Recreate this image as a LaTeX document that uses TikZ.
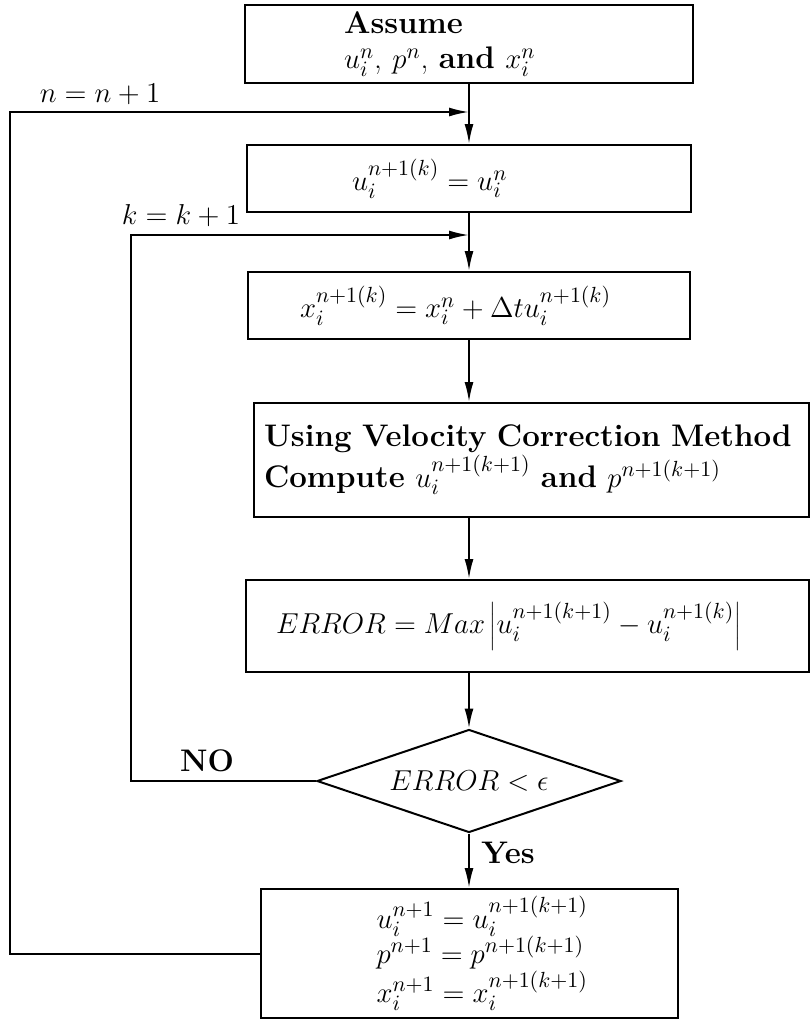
\documentclass[tikz,border=0pt]{standalone}
\usetikzlibrary{arrows.meta,shapes.geometric}

\begin{document}
\begin{tikzpicture}[
  x=0.5pt, y=-0.5pt,
  font=\fontsize{15.6}{17.5}\selectfont,
  stepbox/.style={draw, line width=1pt, inner xsep=0pt, inner ysep=2pt, align=left},
  decision/.style={draw, diamond, aspect=3, line width=1pt, inner sep=1pt,
    minimum width=152pt, minimum height=51.5pt},
  flow/.style={-{Latex[length=10pt,width=4.5pt]}, line width=1pt},
  tag/.style={inner sep=0pt}
]
\useasboundingbox (0,0) rectangle (809,1023);

\node[stepbox, text width=224pt, minimum height=39pt] (assume) at (469,44)
  {\hspace*{49.5pt}\textbf{Assume}\\\hspace*{49.5pt}$u_i^n$, $p^n$, \textbf{and} $x_i^n$};
\node[stepbox, text width=222pt, minimum height=33.5pt] (init) at (469,178.5)
  {\hspace*{52.5pt}$u_i^{n+1(k)} = u_i^n$};
\node[stepbox, text width=221pt, minimum height=33.5pt] (move) at (469,305.5)
  {\hspace*{26pt}$x_i^{n+1(k)} = x_i^n + \Delta t u_i^{n+1(k)}$};
\node[stepbox, anchor=west, text width=277.5pt, minimum height=57pt] (vcm) at (253,460)
  {\hspace*{5pt}\textbf{Using Velocity Correction Method}\\\hspace*{5pt}\textbf{Compute} $u_i^{n+1(k+1)}$ \textbf{and} $p^{n+1(k+1)}$};
\node[stepbox, anchor=west, text width=281.5pt, minimum height=46pt] (err) at (245,626)
  {\hspace*{15pt}$ERROR = Max\left|u_i^{n+1(k+1)} - u_i^{n+1(k)}\right|$};
\node[decision] (check) at (469,781) {$ERROR < \epsilon$};
\node[stepbox, text width=208.5pt, minimum height=64.5pt] (update) at (469,953.5)
  {\hspace*{58pt}$u_i^{n+1} = u_i^{n+1(k+1)}$\\\hspace*{58pt}$p^{n+1} = p^{n+1(k+1)}$\\\hspace*{58pt}$x_i^{n+1} = x_i^{n+1(k+1)}$};

\coordinate (njoin) at (469,112);
\coordinate (nleft) at (10,112);
\coordinate (kjoin) at (469,235);
\coordinate (kleft) at (131,235);

\draw[flow] (assume) -- (init);
\draw[flow] (init) -- (move);
\draw[flow] (move.south) -- (move.south |- vcm.north);
\draw[flow] (vcm.south -| check) -- (err.north -| check);
\draw[flow] (err.south -| check) -- (check.north);
\draw[flow] (check) -- (update);

\draw[flow] (check.west) -| (kleft) -- (kjoin);
\draw[flow] (update.west) -| (nleft) -- (njoin);

\node[tag] (nlabel) at (100,94) {$n = n + 1$};
\node[tag] (klabel) at (181,216) {$k = k + 1$};
\node[tag] (nolabel) at (207,761) {\textbf{NO}};
\node[tag] (yeslabel) at (508,853) {\textbf{Yes}};

\end{tikzpicture}
\end{document}
